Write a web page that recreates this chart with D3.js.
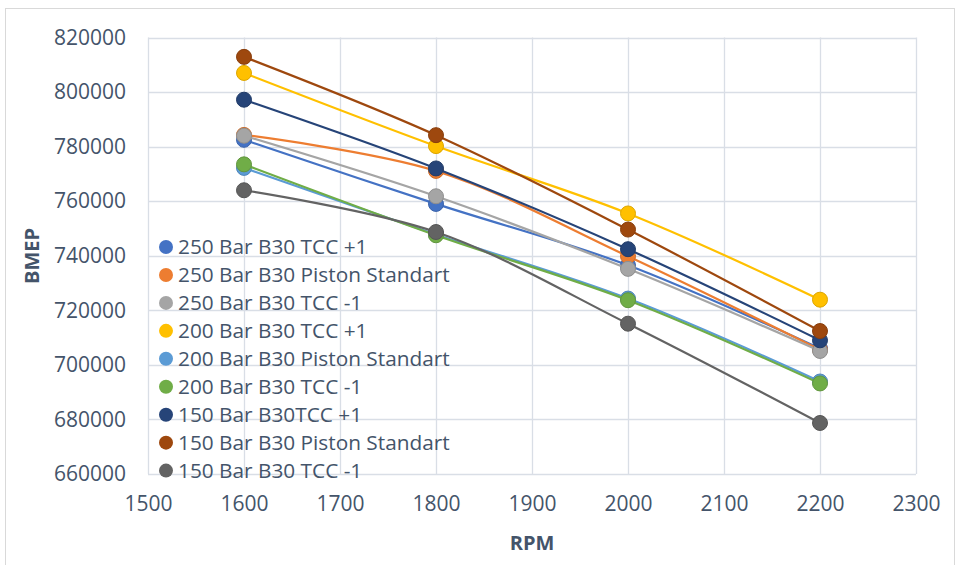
<!DOCTYPE html>
<html>
<head>
<meta charset="utf-8">
<script src="https://cdn.jsdelivr.net/npm/d3@7"></script>
<style>
  html, body { margin: 0; padding: 0; background: #fff; }
  svg { display: block; font-family: "Open Sans", sans-serif; }
</style>
</head>
<body>
<svg id="chart" width="956" height="565"></svg>
<script>
const rpm = [1600, 1800, 2000, 2200];
const seriesNames = [
  "250 Bar B30 TCC +1",
  "250 Bar B30 Piston Standart",
  "250 Bar B30 TCC -1",
  "200 Bar B30 TCC +1",
  "200 Bar B30 Piston Standart",
  "200 Bar B30 TCC -1",
  "150 Bar B30TCC +1",
  "150 Bar B30 Piston Standart",
  "150 Bar B30 TCC -1"
];
const s250p1 = [782500, 759000, 736500, 706000];
const s250std = [784300, 771100, 739800, 705500];
const s250m1 = [784000, 761800, 735200, 705100];
const s200p1 = [807000, 780200, 755500, 723900];
const s200std = [772200, 747800, 724300, 693900];
const s200m1 = [773500, 747500, 723700, 693200];
const s150p1 = [797200, 772000, 742400, 709000];
const s150std = [812900, 784200, 749600, 712400];
const s150m1 = [764000, 748700, 715100, 678700];
const seriesValues = [s250p1, s250std, s250m1, s200p1, s200std, s200m1, s150p1, s150std, s150m1];
const colors = ["#4472C4", "#ED7D31", "#A5A5A5", "#FFC000", "#5B9BD5", "#70AD47", "#264478", "#9E480E", "#636363"];
const xTicks = [1500, 1600, 1700, 1800, 1900, 2000, 2100, 2200, 2300];
const yTicks = [660000, 680000, 700000, 720000, 740000, 760000, 780000, 800000, 820000];

const svg = d3.select("#chart");
const textColor = "#44546A";
const gridColor = "#D9DEE6";

// chart border
svg.append("rect").attr("x", 5.5).attr("y", 8.5).attr("width", 949).attr("height", 570)
  .attr("fill", "none").attr("stroke", "#D9D9D9").attr("stroke-width", 1);

const x = d3.scaleLinear().domain([1500, 2300]).range([148, 916]);
const y = d3.scaleLinear().domain([660000, 820000]).range([474, 37.5]);

// grid
const g = svg.append("g");
g.selectAll("line.v").data(xTicks).enter().append("line")
  .attr("x1", d => Math.round(x(d)) + 0.5).attr("x2", d => Math.round(x(d)) + 0.5)
  .attr("y1", y(820000)).attr("y2", y(660000))
  .attr("stroke", gridColor).attr("stroke-width", 1.3);
g.selectAll("line.h").data(yTicks).enter().append("line")
  .attr("y1", d => Math.round(y(d)) + 0.5).attr("y2", d => Math.round(y(d)) + 0.5)
  .attr("x1", x(1500)).attr("x2", x(2300))
  .attr("stroke", gridColor).attr("stroke-width", 1.3);

// axes via d3 axis (no domain/ticks lines)
const yAxis = svg.append("g").attr("transform", `translate(${x(1500)},0)`)
  .call(d3.axisLeft(y).tickValues(yTicks).tickSize(0).tickPadding(22).tickFormat(d3.format("d")));
yAxis.select(".domain").remove();
yAxis.selectAll("text").attr("fill", textColor).style("font-size", "21px").style("font-family", "Open Sans");

const xAxis = svg.append("g").attr("transform", `translate(0,${y(660000)})`)
  .call(d3.axisBottom(x).tickValues(xTicks).tickSize(0).tickPadding(22).tickFormat(d3.format("d")));
xAxis.select(".domain").remove();
xAxis.selectAll("text").attr("fill", textColor).style("font-size", "21px").style("font-family", "Open Sans");

// axis titles
svg.append("text").attr("x", 532).attr("y", 550).attr("text-anchor", "middle")
  .attr("fill", textColor).style("font-size", "20px").style("font-weight", "bold").text("RPM");
svg.append("text").attr("transform", "translate(39,256) rotate(-90)").attr("text-anchor", "middle")
  .attr("fill", textColor).style("font-size", "20px").style("font-weight", "bold").text("BMEP");

// series
const line = d3.line().x((d, i) => x(rpm[i])).y(d => y(d)).curve(d3.curveCatmullRom.alpha(0.5));
seriesValues.forEach((vals, si) => {
  const sg = svg.append("g");
  sg.append("path").datum(vals).attr("d", line)
    .attr("fill", "none").attr("stroke", colors[si]).attr("stroke-width", 2.2);
  sg.selectAll("circle").data(vals).enter().append("circle")
    .attr("cx", (d, i) => x(rpm[i])).attr("cy", d => y(d)).attr("r", 7.5)
    .attr("fill", colors[si]).attr("stroke", d3.color(colors[si]).darker(0.4)).attr("stroke-width", 1);
});

// legend
const leg = svg.append("g");
seriesNames.forEach((name, i) => {
  const cy = 247 + i * 27.95;
  leg.append("circle").attr("cx", 166).attr("cy", cy).attr("r", 7)
    .attr("fill", colors[i]);
  leg.append("text").attr("x", 178).attr("y", cy).attr("dy", "0.35em")
    .attr("fill", textColor).style("font-size", "20.8px").text(name);
});
</script>
</body>
</html>
